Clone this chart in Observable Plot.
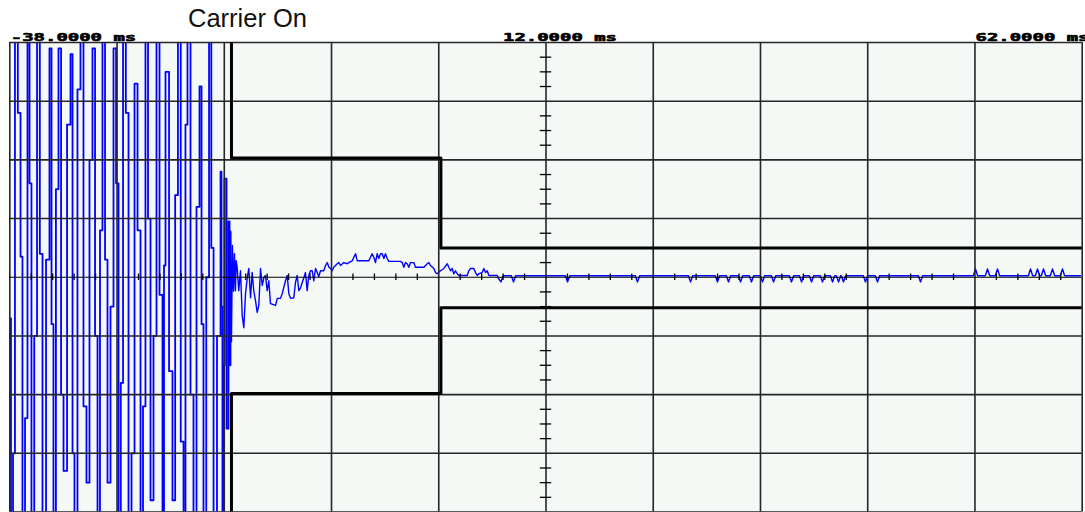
<!DOCTYPE html>
<html><head><meta charset="utf-8">
<script src="https://cdn.jsdelivr.net/npm/d3@7"></script>
<script src="https://cdn.jsdelivr.net/npm/@observablehq/plot@0.6"></script>
<style>
body{margin:0;background:#fff;}
#wrap{position:relative;width:1085px;height:512px;overflow:hidden;}
#title{position:absolute;left:188px;top:6px;font-family:"Liberation Sans",Arial,sans-serif;font-size:25.5px;line-height:1;color:#111;white-space:nowrap;}
#chart{position:absolute;left:0;top:0;}
</style></head><body>
<div id="wrap"><div id="chart"></div><div id="title">Carrier On</div></div>
<script>
// time axis in ms, vertical axis in screen divisions
const timeDomainMs = [-38, 62];
const divDomain = [-4, 4];
const gridMs = [-38, -28, -18, -8, 2, 12, 22, 32, 42, 52, 62];
const gridDiv = [-4, -3, -2, -1, 1, 2, 3, 4];
const timeLabels = ["-38.0000 ms", "12.0000 ms", "62.0000 ms"];
const timeLabelMs = [-38, 12, 62];
const axisTickStepMs = 2;
const axisTickStepDiv = 0.25;

// [ms, div] samples of the captured trace (burst drawn sample-and-hold)
const burst = [
  [-38.00,-0.7],[-37.89,-12],[-37.70,-3.0],[-37.52,12],[-37.25,2.8],[-37.00,0.35],[-36.82,-12],
  [-36.58,-2.4],[-36.35,12],[-36.16,1.6],[-35.98,-12],[-35.72,-1.0],[-35.46,12],[-35.20,0.4],
  [-34.95,-12],[-34.62,0.3],[-34.30,3.9],[-34.11,-0.8],[-33.93,-12],[-33.70,1.5],[-33.46,3.9],
  [-33.22,-2.0],[-32.99,-3.3],[-32.66,2.6],[-32.34,3.8],[-32.15,-3.0],[-31.97,-12],[-31.69,3.2],
  [-31.41,12],[-31.13,-2.2],[-30.85,-3.5],[-30.57,2.0],[-30.29,3.9],[-30.05,-1.0],[-29.82,-12],
  [-29.59,0.8],[-29.36,12],[-29.12,0.3],[-28.89,-3.5],[-28.61,-0.5],[-28.33,3.9],[-28.09,1.6],
  [-27.86,-12],[-27.65,-1.8],[-27.44,12],[-27.18,2.8],[-26.93,-12],[-26.65,-3.0],[-26.37,3.3],
  [-26.09,0.8],[-25.81,-12],[-25.58,-2.2],[-25.35,12],[-25.11,1.0],[-24.88,-3.8],[-24.60,-1.0],
  [-24.32,12],[-24.04,-0.3],[-23.76,-12],[-23.62,0.2],[-23.48,3.5],[-23.15,-1.6],[-22.83,-3.8],
  [-22.58,1.4],[-22.32,12],[-22.06,-2.8],[-21.80,-12],[-21.62,2.6],[-21.43,12],[-21.15,-2.0],
  [-20.87,-12],[-20.59,1.2],[-20.31,3.25],[-20.12,-0.8],[-19.94,-12],[-19.68,0.0],[-19.42,12],
  [-19.21,0.5],[-19.00,-12],[-18.68,-1.0],[-18.35,1.8],[-18.26,-0.5],[-18.17,-12],[-18.07,-1.5],
  [-17.98,1.68],[-17.79,-2.58],[-17.61,0.95],[-17.51,-1.50]
];
const transient = [
  [-17.42,0.78],[-17.33,-1.10],[-17.24,0.54],[-17.14,-0.24],[-17.05,0.40],[-16.96,-0.23],
  [-16.89,0.28],[-16.80,0.17],[-16.65,-0.23],[-16.49,0.11],[-16.39,-0.35],[-16.33,-0.65],
  [-16.18,-0.86],[-16.02,-0.28],[-15.86,-0.01],[-15.71,0.15],[-15.55,-0.35],[-15.40,0.08],
  [-15.25,-0.23],[-15.09,-0.40],[-14.93,-0.60],[-14.78,-0.48],[-14.62,0.15],[-14.46,-0.14],
  [-14.31,-0.01],[-14.16,0.03],[-14.00,-0.23],[-13.85,-0.06],[-13.69,-0.45],[-13.22,-0.48],
  [-13.06,-0.36],[-12.76,-0.36],[-12.60,-0.28],[-12.29,-0.06],[-12.13,0.03],[-11.98,-0.28],
  [-11.82,-0.36],[-11.52,-0.35],[-11.36,-0.09],[-11.20,0.03],[-11.05,-0.23],[-10.89,-0.18],
  [-10.73,-0.09],[-10.58,-0.01],[-10.43,0.08],[-10.27,-0.23],[-10.12,0.03],[-9.96,0.11],
  [-9.80,0.11],[-9.65,-0.06],[-9.49,0.15],[-9.33,0.08],[-9.19,0.01],[-9.03,0.11],[-8.72,0.11],
  [-8.56,0.20],[-8.40,0.25],[-8.25,0.17],[-8.09,0.15],[-7.94,0.11],[-7.79,0.17],[-7.47,0.23],
  [-7.32,0.25],[-7.16,0.20],[-6.85,0.25],[-6.54,0.23],[-6.39,0.25],[-6.07,0.28],[-5.92,0.34],
  [-5.76,0.40],[-5.60,0.28],[-4.52,0.28],[-4.36,0.34],[-4.21,0.40],[-4.06,0.34],[-3.90,0.25],
  [-3.74,0.40],[-3.59,0.32],[-3.43,0.40],[-3.27,0.40],[-3.12,0.32],[-2.97,0.40],[-2.81,0.32],
  [-2.66,0.27],[-1.57,0.27],[-1.41,0.25],[-1.26,0.17],[-1.10,0.25],[-0.94,0.23],[-0.79,0.17],
  [-0.63,0.25],[-0.33,0.25],[-0.17,0.17],[0.30,0.17],[0.61,0.17],[0.92,0.23],[1.07,0.25],
  [1.23,0.20],[1.54,0.15],[1.70,0.08],[1.86,0.06],[2.16,0.11],[2.47,0.15],[2.79,0.23],
  [2.94,0.17],[3.10,0.11],[3.25,0.15],[3.40,0.06],[3.56,0.11],[3.72,0.06],[3.87,0.03],
  [4.65,0.03],[4.80,0.11],[4.96,0.15],[5.27,0.15],[5.43,0.08],[5.59,0.03],[5.73,0.06],
  [6.05,0.08],[6.20,0.15],[6.36,0.08],[6.52,0.11],[6.67,0.03],[7.45,0.03],[7.60,-0.03]
];
const noise = [
  [7.80,-0.08],[8.00,0.025],
  [8.77,0.025],[8.97,-0.08],[9.17,0.025],
  [13.81,0.025],[14.01,-0.08],[14.21,0.025],
  [20.33,0.025],[20.53,-0.08],[20.73,0.025],
  [25.28,0.025],[25.48,-0.08],[25.68,0.025],
  [27.79,0.025],[27.99,-0.08],[28.19,0.025],
  [28.82,0.025],[29.02,-0.08],[29.22,0.025],
  [29.94,0.025],[30.14,-0.08],[30.34,0.025],
  [30.96,0.025],[31.16,-0.08],[31.36,0.025],
  [31.99,0.025],[32.19,-0.08],[32.39,0.025],
  [33.02,0.025],[33.22,-0.08],[33.42,0.025],
  [34.69,0.025],[34.89,-0.08],[35.09,0.025],
  [35.63,0.025],[35.83,-0.08],[36.03,0.025],
  [36.56,0.025],[36.76,-0.08],[36.96,0.025],
  [37.58,0.025],[37.78,-0.08],[37.98,0.025],
  [38.52,0.025],[38.72,-0.08],[38.92,0.025],
  [39.08,0.025],[39.28,-0.08],[39.48,0.025],
  [39.54,0.025],[39.74,-0.08],[39.94,0.025],
  [41.59,0.025],[41.79,-0.08],[41.99,0.025],
  [42.71,0.025],[42.91,-0.08],[43.11,0.025],
  [46.72,0.025],[46.92,-0.08],[47.12,0.025],
  [51.85,0.025],[52.05,0.14],[52.25,0.025],
  [52.97,0.025],[53.17,0.14],[53.37,0.025],
  [53.90,0.025],[54.10,0.14],[54.30,0.025],
  [56.98,0.025],[57.18,0.14],[57.38,0.025],
  [57.63,0.025],[57.83,0.14],[58.03,0.025],
  [58.19,0.025],[58.39,0.14],[58.59,0.025],
  [59.03,0.025],[59.23,0.14],[59.43,0.025],
  [59.96,0.025],[60.16,0.14],[60.36,0.025],
  [61.84,0.025]
];
// limit mask [ms, div]
const maskUpper = [[-17.33,4.3],[-17.33,2.03],[2.2,2.03],[2.2,0.5],[63,0.5]];
const maskLower = [[-17.33,-4.3],[-17.33,-1.98],[2.2,-1.98],[2.2,-0.52],[63,-0.52]];

const burstHeld = burst.concat([transient[0]]);
const tail = transient.concat(noise);
const hTicks = d3.range(timeDomainMs[0] + axisTickStepMs, timeDomainMs[1], axisTickStepMs)
  .filter(t => { const r = (t - timeDomainMs[0]) % 10; return Math.abs(r) > 1e-6 && Math.abs(r - 10) > 1e-6; });
const vTicks = d3.range(divDomain[0] + axisTickStepDiv, divDomain[1], axisTickStepDiv)
  .filter(v => Math.abs(v - Math.round(v)) > 1e-6);
const centerMs = 12;
const labels = timeLabels.map((s, i) => ({s, t: timeLabelMs[i]}));
const labelDx = [1, -43, -106.7];

const labelFont = {fontFamily: "DejaVu Sans Mono", fontSize: 11, fontWeight: "bold", fill: "#000",
  stroke: "#000", strokeWidth: 0.6, textAnchor: "start", lineAnchor: "bottom", dy: -1.5};

const chart = Plot.plot({
  width: 1085,
  height: 512,
  marginLeft: 9.3,
  marginRight: 3.3,
  marginTop: 42,
  marginBottom: 0.5,
  x: {domain: timeDomainMs, axis: null},
  y: {domain: divDomain, axis: null},
  style: {background: "#fff", overflow: "hidden"},
  marks: [
    Plot.frame({fill: "#f4f9f6", stroke: "none"}),
    Plot.line(burstHeld, {x: d => d[0], y: d => d[1], curve: "step-after", stroke: "#0000ff", strokeWidth: 1.8, clip: true}),
    Plot.line(tail, {x: d => d[0], y: d => d[1], stroke: "#0000ff", strokeWidth: 1.4, clip: true}),
    Plot.ruleX(gridMs, {stroke: "#262626", strokeWidth: 1.6}),
    Plot.ruleY(gridDiv, {stroke: "#262626", strokeWidth: 1.6}),
    Plot.ruleY([0], {stroke: "#000", strokeWidth: 1.2}),
    Plot.ruleX(hTicks, {y1: -0.056, y2: 0.056, stroke: "#000", strokeWidth: 1.3}),
    Plot.ruleY(vTicks, {x1: centerMs - 0.53, x2: centerMs + 0.53, stroke: "#000", strokeWidth: 1.3}),
    Plot.line(maskUpper, {x: d => d[0], y: d => d[1], stroke: "#000", strokeWidth: 3, clip: true}),
    Plot.line(maskLower, {x: d => d[0], y: d => d[1], stroke: "#000", strokeWidth: 3, clip: true}),
    ...labels.map((l, i) => Plot.text([l], {x: "t", y: () => divDomain[1], text: "s", dx: labelDx[i], ...labelFont}))
  ]
});
document.getElementById("chart").appendChild(chart);
// stretch labels to the wide bitmap-font look
d3.select(chart).selectAll("text").each(function() {
  const n = this.textContent.length;
  this.setAttribute("textLength", n * 11.4);
  this.setAttribute("lengthAdjust", "spacingAndGlyphs");
});
</script>
</body></html>
